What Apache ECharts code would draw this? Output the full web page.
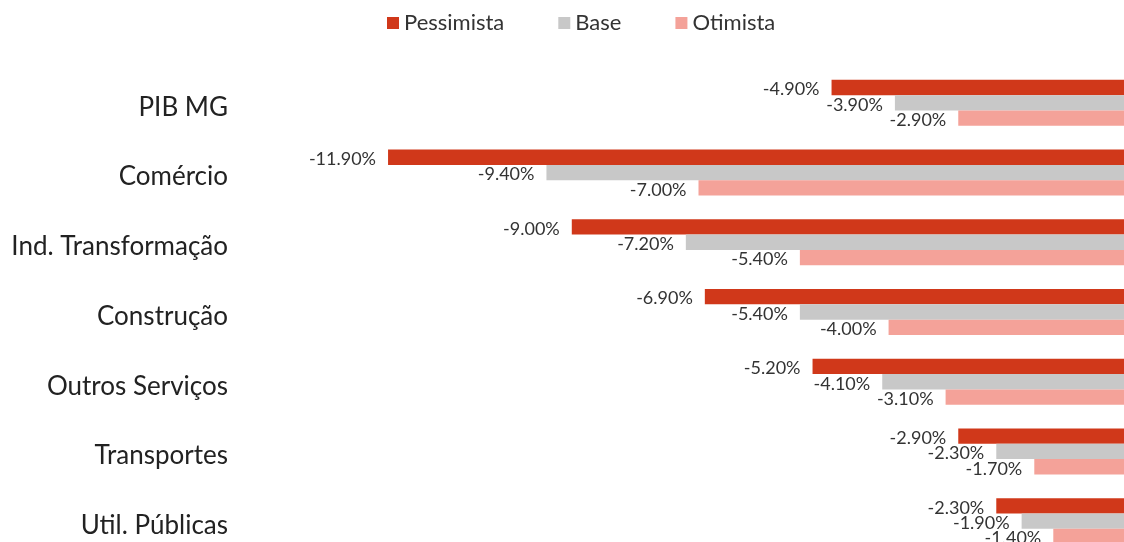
<!DOCTYPE html>
<html>
<head>
<meta charset="utf-8">
<script src="https://cdn.jsdelivr.net/npm/echarts@6/dist/echarts.min.js"></script>
<style>html,body{margin:0;padding:0;background:#fff;overflow:hidden;}#c{width:1142px;height:556px;}</style>
</head>
<body>
<div id="c"></div>
<script>
const categories = ["PIB MG", "Comércio", "Ind. Transformação", "Construção", "Outros Serviços", "Transportes", "Util. Públicas"];
const seriesNames = ["Pessimista", "Base", "Otimista"];
const pessimista = [-4.9, -11.9, -9.0, -6.9, -5.2, -2.9, -2.3];
const base = [-3.9, -9.4, -7.2, -5.4, -4.1, -2.3, -1.9];
const otimista = [-2.9, -7.0, -5.4, -4.0, -3.1, -1.7, -1.4];
const colors = ["#d0381a", "#c8c8c8", "#f4a299"];

const FONT = "Lato";
const chart = echarts.init(document.getElementById('c'));
const mk = (name, data, color) => ({
  name, type: 'bar', data,
  itemStyle: { color },
  barGap: '0%', barCategoryGap: '34%',
  label: {
    show: true, position: 'left', distance: 12, offset: [0, 2],
    formatter: p => p.value.toFixed(2) + '%',
    fontFamily: FONT, fontSize: 18, color: '#333'
  }
});
chart.setOption({
  animation: false,
  textStyle: { fontFamily: FONT },
  legend: {
    top: 7, left: 382,
    itemWidth: 12, itemHeight: 12, itemGap: 54,
    icon: 'rect',
    textStyle: { fontFamily: FONT, fontSize: 22, color: '#333' },
    data: seriesNames
  },
  grid: { left: 255, right: 0, top: 68, bottom: 0, containLabel: false },
  xAxis: {
    type: 'value', min: -14, max: 0,
    show: false, splitLine: { show: false }
  },
  yAxis: {
    type: 'category', data: categories, inverse: true,
    axisLine: { show: false }, axisTick: { show: false },
    axisLabel: {
      margin: 27,
      formatter: v => '{c|' + v + '}',
      rich: { c: { fontFamily: FONT, fontSize: 26, color: '#222', padding: [9, 0, 0, 0] } }
    }
  },
  series: [
    mk(seriesNames[0], pessimista, colors[0]),
    mk(seriesNames[1], base, colors[1]),
    mk(seriesNames[2], otimista, colors[2])
  ]
});
</script>
</body>
</html>
